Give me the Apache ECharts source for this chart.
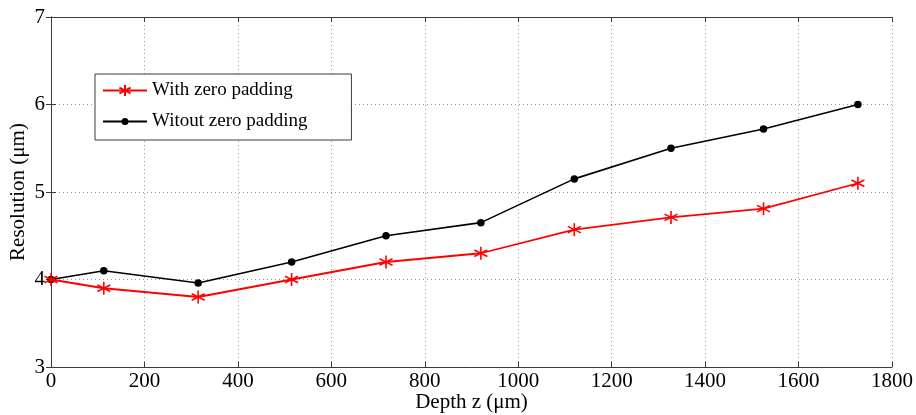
<!DOCTYPE html>
<html><head><meta charset="utf-8">
<script src="https://cdn.jsdelivr.net/npm/echarts@6/dist/echarts.min.js"></script>
<style>html,body{margin:0;padding:0;background:#fff}#c{width:916px;height:415px}</style>
</head><body><div id="c"></div>
<script>
const depth = [0, 113, 315, 515, 717, 920, 1120, 1327, 1525, 1727];
const withZero = [4.0, 3.9, 3.8, 4.0, 4.2, 4.3, 4.57, 4.71, 4.81, 5.1];
const withoutZero = [4.0, 4.1, 3.96, 4.2, 4.5, 4.65, 5.15, 5.5, 5.72, 6.0];
const seriesNames = ['With zero padding', 'Witout zero padding'];
const xTitle = 'Depth z (\u03bcm)';
const yTitle = 'Resolution (\u03bcm)';

const font = 'Liberation Serif';
const axisCol = '#3a3a3a';
const star = 'path://M0,-10 L0,10 M-8.66,-5 L8.66,5 M-8.66,5 L8.66,-5';
const smallDot = 'path://M-8,-8 M8,8 M-5,0 A5,5 0 1 1 5,0 A5,5 0 1 1 -5,0 Z';
const chart = echarts.init(document.getElementById('c'));
const pairs = a => depth.map((d, i) => [d, a[i]]);
const hiddenAxisCommon = {
  axisLine: {show: true, lineStyle: {color: axisCol, width: 1}},
  axisTick: {show: true, inside: true, length: 5, lineStyle: {color: axisCol}},
  axisLabel: {show: false},
  splitLine: {show: false}
};
chart.setOption({
  animation: false,
  backgroundColor: '#fff',
  textStyle: {fontFamily: font},
  grid: {left: 51, right: 24, top: 17, bottom: 48, containLabel: false, outerBoundsMode: 'none'},
  legend: {
    left: 95, top: 74,
    orient: 'vertical',
    padding: [6, 44, 8, 7],
    itemGap: 10,
    itemWidth: 44, itemHeight: 14,
    backgroundColor: '#fff',
    borderColor: axisCol, borderWidth: 1,
    textStyle: {fontFamily: font, fontSize: 19, color: '#000', lineHeight: 21},
    data: seriesNames
  },
  xAxis: [{
    type: 'value', min: 0, max: 1800, interval: 200,
    name: xTitle, nameLocation: 'middle', nameGap: 25, nameMoveOverlap: false,
    nameTextStyle: {fontFamily: font, fontSize: 21, color: '#000'},
    axisLine: {show: true, lineStyle: {color: axisCol, width: 1}},
    axisTick: {show: true, inside: true, length: 5, lineStyle: {color: axisCol}},
    axisLabel: {fontFamily: font, fontSize: 21, color: '#000', margin: 4, formatter: v => String(v)},
    splitLine: {show: true, lineStyle: {color: '#999', type: [1, 3], width: 1}}
  }, Object.assign({type: 'value', min: 0, max: 1800, interval: 200, position: 'top'}, hiddenAxisCommon)],
  yAxis: [{
    type: 'value', min: 3, max: 7, interval: 1,
    name: yTitle, nameLocation: 'middle', nameGap: 22, nameMoveOverlap: false,
    nameTextStyle: {fontFamily: font, fontSize: 21, color: '#000'},
    axisLine: {show: true, lineStyle: {color: axisCol, width: 1}},
    axisTick: {show: true, inside: true, length: 5, lineStyle: {color: axisCol}},
    axisLabel: {fontFamily: font, fontSize: 21, color: '#000', margin: 6},
    splitLine: {show: true, lineStyle: {color: '#999', type: [1, 3], width: 1}}
  }, Object.assign({type: 'value', min: 3, max: 7, interval: 1, position: 'right'}, hiddenAxisCommon)],
  series: [{
    name: seriesNames[0], type: 'line', data: pairs(withZero),
    symbol: star, symbolSize: 13, showAllSymbol: true,
    lineStyle: {color: '#ff0000', width: 1.8},
    itemStyle: {color: '#ff0000', borderColor: '#ff0000', borderWidth: 1.6},
    z: 3
  }, {
    name: seriesNames[1], type: 'line', data: pairs(withoutZero),
    symbol: smallDot, symbolSize: 12, showAllSymbol: true,
    lineStyle: {color: '#000', width: 1.6},
    itemStyle: {color: '#000', borderWidth: 0},
    z: 2
  }]
});
</script></body></html>
